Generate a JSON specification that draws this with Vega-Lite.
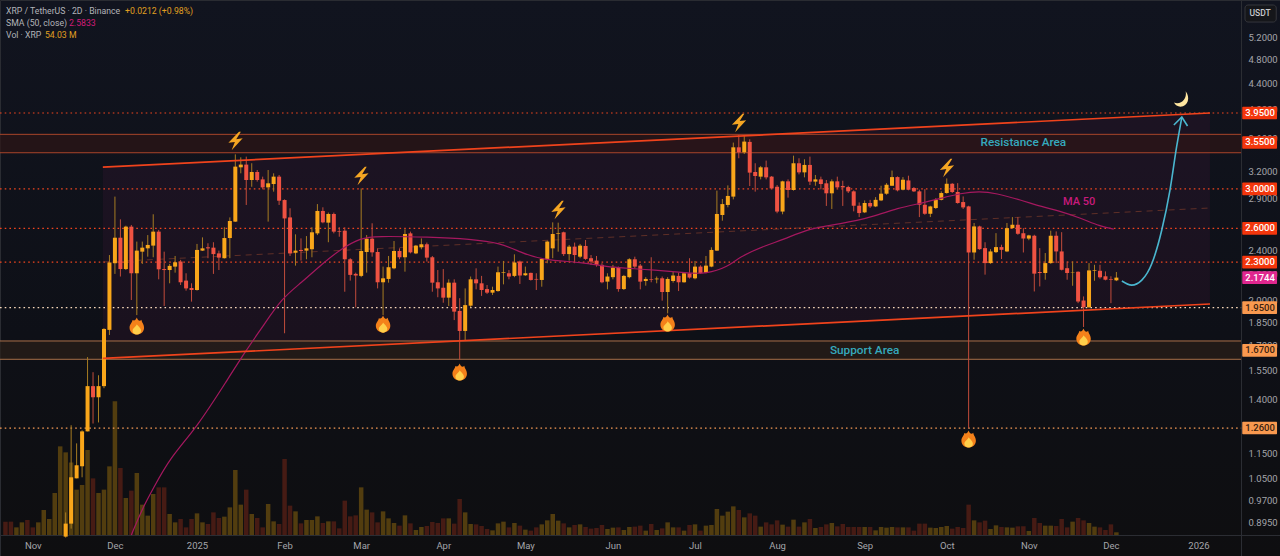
{
  "$schema": "https://vega.github.io/schema/vega-lite/v6.json",
  "description": "XRP / TetherUS 2D candles with channel, support and resistance levels",
  "width": 1280,
  "height": 556,
  "padding": 0,
  "autosize": {"type": "none"},
  "background": "#0e0e10",
  "config": {
    "view": {
      "stroke": "#2a2c32",
      "fill": {"gradient": "linear", "x1": 0, "y1": 0, "x2": 0, "y2": 1, "stops": [{"offset": 0, "color": "#11141f"}, {"offset": 0.6, "color": "#0e1017"}, {"offset": 1, "color": "#0e0e10"}]}
    },
    "axis": {"labelFont": "Roboto", "labelFontSize": 9.5, "labelColor": "#a4a5aa", "domainColor": "#2b2d33", "ticks": false, "grid": false, "labelOverlap": false, "labelFlush": false},
    "text": {"font": "Roboto"}
  },
  "datasets": {
    "bars": [
      {"d":"2024-10-23","o":0.56,"h":0.57,"l":0.54,"c":0.55,"v":267},
      {"d":"2024-10-25","o":0.55,"h":0.56,"l":0.51,"c":0.52,"v":267},
      {"d":"2024-10-27","o":0.52,"h":0.53,"l":0.51,"c":0.53,"v":153},
      {"d":"2024-10-29","o":0.52,"h":0.54,"l":0.51,"c":0.53,"v":253},
      {"d":"2024-10-31","o":0.53,"h":0.54,"l":0.5,"c":0.51,"v":300},
      {"d":"2024-11-02","o":0.51,"h":0.52,"l":0.5,"c":0.5,"v":153},
      {"d":"2024-11-04","o":0.5,"h":0.52,"l":0.49,"c":0.51,"v":253},
      {"d":"2024-11-06","o":0.51,"h":0.56,"l":0.5,"c":0.55,"v":500},
      {"d":"2024-11-08","o":0.55,"h":0.57,"l":0.54,"c":0.56,"v":320},
      {"d":"2024-11-10","o":0.56,"h":0.65,"l":0.55,"c":0.64,"v":840},
      {"d":"2024-11-12","o":0.64,"h":0.78,"l":0.62,"c":0.76,"v":1773},
      {"d":"2024-11-14","o":0.85,"h":0.928,"l":0.847,"c":0.891,"v":1653},
      {"d":"2024-11-16","o":0.891,"h":1.273,"l":0.875,"c":1.054,"v":1450},
      {"d":"2024-11-18","o":1.05,"h":1.192,"l":1.05,"c":1.101,"v":907},
      {"d":"2024-11-20","o":1.097,"h":1.25,"l":1.054,"c":1.245,"v":1000},
      {"d":"2024-11-22","o":1.245,"h":1.63,"l":1.245,"c":1.467,"v":1700},
      {"d":"2024-11-24","o":1.467,"h":1.543,"l":1.281,"c":1.409,"v":1133},
      {"d":"2024-11-26","o":1.409,"h":1.526,"l":1.286,"c":1.467,"v":840},
      {"d":"2024-11-28","o":1.467,"h":1.81,"l":1.456,"c":1.805,"v":907},
      {"d":"2024-11-30","o":1.799,"h":2.36,"l":1.766,"c":2.297,"v":1373},
      {"d":"2024-12-02","o":2.291,"h":2.917,"l":2.204,"c":2.513,"v":2673},
      {"d":"2024-12-04","o":2.513,"h":2.686,"l":2.183,"c":2.243,"v":1340},
      {"d":"2024-12-06","o":2.243,"h":2.625,"l":2.235,"c":2.616,"v":740},
      {"d":"2024-12-08","o":2.616,"h":2.632,"l":2.005,"c":2.209,"v":887},
      {"d":"2024-12-10","o":2.209,"h":2.478,"l":1.898,"c":2.398,"v":1240},
      {"d":"2024-12-12","o":2.389,"h":2.478,"l":2.285,"c":2.424,"v":607},
      {"d":"2024-12-14","o":2.418,"h":2.537,"l":2.346,"c":2.448,"v":387},
      {"d":"2024-12-16","o":2.442,"h":2.736,"l":2.341,"c":2.569,"v":820},
      {"d":"2024-12-18","o":2.569,"h":2.585,"l":2.161,"c":2.241,"v":953},
      {"d":"2024-12-20","o":2.243,"h":2.389,"l":1.962,"c":2.235,"v":953},
      {"d":"2024-12-22","o":2.235,"h":2.285,"l":2.13,"c":2.269,"v":420},
      {"d":"2024-12-24","o":2.263,"h":2.352,"l":2.214,"c":2.299,"v":253},
      {"d":"2024-12-26","o":2.305,"h":2.319,"l":2.117,"c":2.138,"v":320},
      {"d":"2024-12-28","o":2.151,"h":2.209,"l":2.074,"c":2.091,"v":153},
      {"d":"2024-12-30","o":2.094,"h":2.13,"l":1.993,"c":2.079,"v":320},
      {"d":"2025-01-01","o":2.079,"h":2.457,"l":2.074,"c":2.404,"v":433},
      {"d":"2025-01-03","o":2.398,"h":2.516,"l":2.395,"c":2.418,"v":253},
      {"d":"2025-01-05","o":2.427,"h":2.463,"l":2.333,"c":2.418,"v":220},
      {"d":"2025-01-07","o":2.424,"h":2.472,"l":2.204,"c":2.368,"v":453},
      {"d":"2025-01-09","o":2.374,"h":2.398,"l":2.235,"c":2.338,"v":340},
      {"d":"2025-01-11","o":2.333,"h":2.61,"l":2.33,"c":2.51,"v":367},
      {"d":"2025-01-13","o":2.51,"h":2.705,"l":2.333,"c":2.67,"v":553},
      {"d":"2025-01-15","o":2.664,"h":3.4,"l":2.661,"c":3.252,"v":1300},
      {"d":"2025-01-17","o":3.244,"h":3.364,"l":3.174,"c":3.276,"v":607},
      {"d":"2025-01-19","o":3.276,"h":3.372,"l":2.83,"c":3.098,"v":907},
      {"d":"2025-01-21","o":3.098,"h":3.292,"l":3.023,"c":3.189,"v":420},
      {"d":"2025-01-23","o":3.189,"h":3.212,"l":3.08,"c":3.098,"v":340},
      {"d":"2025-01-25","o":3.105,"h":3.136,"l":2.995,"c":3.016,"v":153},
      {"d":"2025-01-27","o":3.016,"h":3.212,"l":2.664,"c":3.061,"v":620},
      {"d":"2025-01-29","o":3.053,"h":3.174,"l":2.97,"c":3.136,"v":273},
      {"d":"2025-01-31","o":3.136,"h":3.155,"l":2.83,"c":2.874,"v":220},
      {"d":"2025-02-02","o":2.881,"h":2.888,"l":1.777,"c":2.695,"v":1520},
      {"d":"2025-02-04","o":2.705,"h":2.796,"l":2.352,"c":2.374,"v":587},
      {"d":"2025-02-06","o":2.38,"h":2.544,"l":2.271,"c":2.398,"v":473},
      {"d":"2025-02-08","o":2.404,"h":2.507,"l":2.313,"c":2.395,"v":233},
      {"d":"2025-02-10","o":2.398,"h":2.528,"l":2.324,"c":2.418,"v":300},
      {"d":"2025-02-12","o":2.41,"h":2.61,"l":2.341,"c":2.563,"v":300},
      {"d":"2025-02-14","o":2.553,"h":2.839,"l":2.537,"c":2.769,"v":373},
      {"d":"2025-02-16","o":2.769,"h":2.806,"l":2.648,"c":2.657,"v":240},
      {"d":"2025-02-18","o":2.654,"h":2.753,"l":2.472,"c":2.739,"v":273},
      {"d":"2025-02-20","o":2.739,"h":2.753,"l":2.553,"c":2.569,"v":273},
      {"d":"2025-02-22","o":2.575,"h":2.61,"l":2.522,"c":2.569,"v":133},
      {"d":"2025-02-24","o":2.578,"h":2.61,"l":2.066,"c":2.324,"v":687},
      {"d":"2025-02-26","o":2.324,"h":2.333,"l":2.151,"c":2.196,"v":373},
      {"d":"2025-02-28","o":2.204,"h":2.214,"l":1.952,"c":2.191,"v":393},
      {"d":"2025-03-02","o":2.188,"h":3.005,"l":2.178,"c":2.395,"v":953},
      {"d":"2025-03-04","o":2.386,"h":2.537,"l":2.214,"c":2.504,"v":507},
      {"d":"2025-03-06","o":2.504,"h":2.648,"l":2.346,"c":2.383,"v":453},
      {"d":"2025-03-08","o":2.386,"h":2.418,"l":2.091,"c":2.138,"v":253},
      {"d":"2025-03-10","o":2.138,"h":2.263,"l":1.898,"c":2.169,"v":473},
      {"d":"2025-03-12","o":2.164,"h":2.352,"l":2.135,"c":2.258,"v":333},
      {"d":"2025-03-14","o":2.249,"h":2.483,"l":2.241,"c":2.395,"v":240},
      {"d":"2025-03-16","o":2.395,"h":2.418,"l":2.324,"c":2.341,"v":187},
      {"d":"2025-03-18","o":2.341,"h":2.591,"l":2.222,"c":2.547,"v":393},
      {"d":"2025-03-20","o":2.553,"h":2.569,"l":2.374,"c":2.383,"v":233},
      {"d":"2025-03-22","o":2.374,"h":2.448,"l":2.368,"c":2.442,"v":100},
      {"d":"2025-03-24","o":2.427,"h":2.507,"l":2.41,"c":2.454,"v":160},
      {"d":"2025-03-26","o":2.454,"h":2.469,"l":2.305,"c":2.338,"v":180},
      {"d":"2025-03-28","o":2.341,"h":2.352,"l":2.066,"c":2.135,"v":260},
      {"d":"2025-03-30","o":2.138,"h":2.235,"l":2.025,"c":2.091,"v":240},
      {"d":"2025-04-01","o":2.096,"h":2.243,"l":1.985,"c":2.022,"v":333},
      {"d":"2025-04-03","o":2.022,"h":2.161,"l":1.962,"c":2.135,"v":333},
      {"d":"2025-04-05","o":2.135,"h":2.161,"l":1.864,"c":1.922,"v":227},
      {"d":"2025-04-07","o":1.927,"h":2.018,"l":1.615,"c":1.792,"v":720},
      {"d":"2025-04-09","o":1.792,"h":2.091,"l":1.73,"c":1.968,"v":453},
      {"d":"2025-04-11","o":1.964,"h":2.183,"l":1.952,"c":2.161,"v":220},
      {"d":"2025-04-13","o":2.161,"h":2.249,"l":2.084,"c":2.13,"v":213},
      {"d":"2025-04-15","o":2.13,"h":2.188,"l":2.035,"c":2.079,"v":180},
      {"d":"2025-04-17","o":2.086,"h":2.117,"l":2.049,"c":2.059,"v":120},
      {"d":"2025-04-19","o":2.059,"h":2.104,"l":2.042,"c":2.079,"v":93},
      {"d":"2025-04-21","o":2.071,"h":2.263,"l":2.066,"c":2.217,"v":233},
      {"d":"2025-04-23","o":2.214,"h":2.31,"l":2.122,"c":2.219,"v":267},
      {"d":"2025-04-25","o":2.209,"h":2.235,"l":2.161,"c":2.183,"v":153},
      {"d":"2025-04-27","o":2.188,"h":2.366,"l":2.178,"c":2.297,"v":240},
      {"d":"2025-04-29","o":2.305,"h":2.313,"l":2.125,"c":2.191,"v":187},
      {"d":"2025-05-01","o":2.193,"h":2.263,"l":2.188,"c":2.209,"v":107},
      {"d":"2025-05-03","o":2.212,"h":2.214,"l":2.151,"c":2.156,"v":87},
      {"d":"2025-05-05","o":2.164,"h":2.209,"l":2.079,"c":2.159,"v":153},
      {"d":"2025-05-07","o":2.156,"h":2.333,"l":2.104,"c":2.327,"v":213},
      {"d":"2025-05-09","o":2.327,"h":2.486,"l":2.291,"c":2.478,"v":293},
      {"d":"2025-05-11","o":2.418,"h":2.657,"l":2.333,"c":2.547,"v":420},
      {"d":"2025-05-13","o":2.547,"h":2.654,"l":2.389,"c":2.553,"v":287},
      {"d":"2025-05-15","o":2.563,"h":2.569,"l":2.352,"c":2.368,"v":233},
      {"d":"2025-05-17","o":2.368,"h":2.448,"l":2.313,"c":2.433,"v":153},
      {"d":"2025-05-19","o":2.433,"h":2.469,"l":2.291,"c":2.36,"v":200},
      {"d":"2025-05-21","o":2.346,"h":2.457,"l":2.333,"c":2.442,"v":213},
      {"d":"2025-05-23","o":2.439,"h":2.492,"l":2.319,"c":2.327,"v":160},
      {"d":"2025-05-25","o":2.333,"h":2.36,"l":2.277,"c":2.305,"v":127},
      {"d":"2025-05-27","o":2.313,"h":2.352,"l":2.263,"c":2.277,"v":140},
      {"d":"2025-05-29","o":2.277,"h":2.291,"l":2.13,"c":2.138,"v":200},
      {"d":"2025-05-31","o":2.143,"h":2.209,"l":2.084,"c":2.183,"v":120},
      {"d":"2025-06-02","o":2.178,"h":2.277,"l":2.161,"c":2.255,"v":147},
      {"d":"2025-06-04","o":2.255,"h":2.263,"l":2.066,"c":2.086,"v":153},
      {"d":"2025-06-06","o":2.086,"h":2.196,"l":2.079,"c":2.188,"v":100},
      {"d":"2025-06-08","o":2.178,"h":2.333,"l":2.169,"c":2.324,"v":160},
      {"d":"2025-06-10","o":2.324,"h":2.346,"l":2.249,"c":2.263,"v":167},
      {"d":"2025-06-12","o":2.271,"h":2.285,"l":2.084,"c":2.143,"v":187},
      {"d":"2025-06-14","o":2.148,"h":2.178,"l":2.112,"c":2.164,"v":87},
      {"d":"2025-06-16","o":2.161,"h":2.341,"l":2.138,"c":2.156,"v":220},
      {"d":"2025-06-18","o":2.161,"h":2.183,"l":2.13,"c":2.167,"v":100},
      {"d":"2025-06-20","o":2.169,"h":2.183,"l":2.0,"c":2.064,"v":133},
      {"d":"2025-06-22","o":2.064,"h":2.178,"l":1.91,"c":2.164,"v":253},
      {"d":"2025-06-24","o":2.148,"h":2.222,"l":2.135,"c":2.191,"v":153},
      {"d":"2025-06-26","o":2.188,"h":2.214,"l":2.071,"c":2.138,"v":153},
      {"d":"2025-06-28","o":2.138,"h":2.214,"l":2.135,"c":2.209,"v":87},
      {"d":"2025-06-30","o":2.209,"h":2.333,"l":2.167,"c":2.175,"v":200},
      {"d":"2025-07-02","o":2.169,"h":2.31,"l":2.161,"c":2.263,"v":213},
      {"d":"2025-07-04","o":2.263,"h":2.274,"l":2.204,"c":2.209,"v":87},
      {"d":"2025-07-06","o":2.214,"h":2.352,"l":2.209,"c":2.271,"v":187},
      {"d":"2025-07-08","o":2.263,"h":2.427,"l":2.258,"c":2.404,"v":200},
      {"d":"2025-07-10","o":2.398,"h":2.981,"l":2.395,"c":2.739,"v":520},
      {"d":"2025-07-12","o":2.729,"h":2.892,"l":2.673,"c":2.839,"v":387},
      {"d":"2025-07-14","o":2.83,"h":3.038,"l":2.806,"c":2.924,"v":467},
      {"d":"2025-07-16","o":2.917,"h":3.548,"l":2.888,"c":3.488,"v":573},
      {"d":"2025-07-18","o":3.488,"h":3.647,"l":3.352,"c":3.425,"v":500},
      {"d":"2025-07-20","o":3.425,"h":3.634,"l":3.404,"c":3.561,"v":353},
      {"d":"2025-07-22","o":3.557,"h":3.591,"l":3.031,"c":3.182,"v":433},
      {"d":"2025-07-24","o":3.189,"h":3.292,"l":2.97,"c":3.143,"v":387},
      {"d":"2025-07-26","o":3.136,"h":3.26,"l":3.105,"c":3.244,"v":167},
      {"d":"2025-07-28","o":3.244,"h":3.324,"l":3.105,"c":3.128,"v":253},
      {"d":"2025-07-30","o":3.136,"h":3.143,"l":2.998,"c":3.005,"v":213},
      {"d":"2025-08-01","o":3.023,"h":3.042,"l":2.746,"c":2.763,"v":293},
      {"d":"2025-08-03","o":2.763,"h":3.09,"l":2.736,"c":3.083,"v":207},
      {"d":"2025-08-05","o":3.083,"h":3.105,"l":2.906,"c":2.988,"v":167},
      {"d":"2025-08-07","o":2.988,"h":3.384,"l":2.981,"c":3.292,"v":307},
      {"d":"2025-08-09","o":3.292,"h":3.352,"l":3.162,"c":3.185,"v":167},
      {"d":"2025-08-11","o":3.185,"h":3.34,"l":3.128,"c":3.272,"v":253},
      {"d":"2025-08-13","o":3.272,"h":3.372,"l":3.042,"c":3.08,"v":320},
      {"d":"2025-08-15","o":3.08,"h":3.155,"l":3.034,"c":3.105,"v":140},
      {"d":"2025-08-17","o":3.105,"h":3.136,"l":2.995,"c":3.053,"v":160},
      {"d":"2025-08-19","o":3.061,"h":3.098,"l":2.82,"c":2.952,"v":213},
      {"d":"2025-08-21","o":2.952,"h":3.105,"l":2.789,"c":3.083,"v":240},
      {"d":"2025-08-23","o":3.083,"h":3.136,"l":3.005,"c":3.016,"v":173},
      {"d":"2025-08-25","o":3.031,"h":3.09,"l":2.82,"c":3.016,"v":220},
      {"d":"2025-08-27","o":3.02,"h":3.034,"l":2.955,"c":2.973,"v":160},
      {"d":"2025-08-29","o":2.973,"h":2.984,"l":2.765,"c":2.822,"v":160},
      {"d":"2025-08-31","o":2.822,"h":2.856,"l":2.708,"c":2.748,"v":160},
      {"d":"2025-09-02","o":2.755,"h":2.877,"l":2.748,"c":2.85,"v":160},
      {"d":"2025-09-04","o":2.85,"h":2.883,"l":2.799,"c":2.815,"v":160},
      {"d":"2025-09-06","o":2.815,"h":2.912,"l":2.808,"c":2.883,"v":93},
      {"d":"2025-09-08","o":2.877,"h":3.034,"l":2.87,"c":2.948,"v":160},
      {"d":"2025-09-10","o":2.948,"h":3.063,"l":2.937,"c":3.045,"v":147},
      {"d":"2025-09-12","o":3.034,"h":3.206,"l":3.034,"c":3.131,"v":160},
      {"d":"2025-09-14","o":3.131,"h":3.139,"l":2.973,"c":2.984,"v":153},
      {"d":"2025-09-16","o":2.991,"h":3.131,"l":2.984,"c":3.101,"v":153},
      {"d":"2025-09-18","o":3.093,"h":3.147,"l":2.984,"c":2.991,"v":153},
      {"d":"2025-09-20","o":3.009,"h":3.02,"l":2.966,"c":2.973,"v":87},
      {"d":"2025-09-22","o":2.973,"h":2.991,"l":2.708,"c":2.832,"v":227},
      {"d":"2025-09-24","o":2.832,"h":2.998,"l":2.731,"c":2.741,"v":227},
      {"d":"2025-09-26","o":2.741,"h":2.822,"l":2.708,"c":2.815,"v":147},
      {"d":"2025-09-28","o":2.799,"h":2.901,"l":2.789,"c":2.883,"v":140},
      {"d":"2025-09-30","o":2.883,"h":2.973,"l":2.877,"c":2.955,"v":160},
      {"d":"2025-10-02","o":2.955,"h":3.116,"l":2.948,"c":3.056,"v":180},
      {"d":"2025-10-04","o":3.056,"h":3.063,"l":2.955,"c":2.966,"v":127},
      {"d":"2025-10-06","o":2.966,"h":3.063,"l":2.843,"c":2.85,"v":160},
      {"d":"2025-10-08","o":2.86,"h":2.919,"l":2.789,"c":2.805,"v":140},
      {"d":"2025-10-10","o":2.815,"h":2.822,"l":1.26,"c":2.382,"v":607},
      {"d":"2025-10-12","o":2.382,"h":2.651,"l":2.32,"c":2.618,"v":293},
      {"d":"2025-10-14","o":2.618,"h":2.625,"l":2.405,"c":2.411,"v":253},
      {"d":"2025-10-16","o":2.42,"h":2.472,"l":2.198,"c":2.292,"v":287},
      {"d":"2025-10-18","o":2.292,"h":2.411,"l":2.286,"c":2.391,"v":120},
      {"d":"2025-10-20","o":2.385,"h":2.555,"l":2.377,"c":2.429,"v":193},
      {"d":"2025-10-22","o":2.429,"h":2.45,"l":2.326,"c":2.405,"v":160},
      {"d":"2025-10-24","o":2.391,"h":2.651,"l":2.385,"c":2.602,"v":153},
      {"d":"2025-10-26","o":2.602,"h":2.708,"l":2.596,"c":2.634,"v":147},
      {"d":"2025-10-28","o":2.634,"h":2.708,"l":2.54,"c":2.549,"v":173},
      {"d":"2025-10-30","o":2.555,"h":2.602,"l":2.382,"c":2.505,"v":173},
      {"d":"2025-11-01","o":2.505,"h":2.54,"l":2.49,"c":2.534,"v":80},
      {"d":"2025-11-03","o":2.531,"h":2.54,"l":2.068,"c":2.206,"v":340},
      {"d":"2025-11-05","o":2.219,"h":2.42,"l":2.106,"c":2.211,"v":240},
      {"d":"2025-11-07","o":2.211,"h":2.377,"l":2.158,"c":2.292,"v":187},
      {"d":"2025-11-09","o":2.292,"h":2.578,"l":2.286,"c":2.531,"v":187},
      {"d":"2025-11-11","o":2.531,"h":2.571,"l":2.292,"c":2.391,"v":180},
      {"d":"2025-11-13","o":2.391,"h":2.564,"l":2.232,"c":2.237,"v":320},
      {"d":"2025-11-15","o":2.25,"h":2.306,"l":2.158,"c":2.211,"v":153},
      {"d":"2025-11-17","o":2.216,"h":2.306,"l":2.111,"c":2.219,"v":267},
      {"d":"2025-11-19","o":2.221,"h":2.224,"l":1.982,"c":1.994,"v":340},
      {"d":"2025-11-21","o":2.001,"h":2.031,"l":1.818,"c":1.953,"v":293},
      {"d":"2025-11-23","o":1.953,"h":2.292,"l":1.946,"c":2.232,"v":240},
      {"d":"2025-11-25","o":2.229,"h":2.278,"l":2.15,"c":2.234,"v":167},
      {"d":"2025-11-27","o":2.229,"h":2.278,"l":2.166,"c":2.177,"v":153},
      {"d":"2025-11-29","o":2.185,"h":2.224,"l":2.153,"c":2.158,"v":100},
      {"d":"2025-12-01","o":2.163,"h":2.185,"l":1.982,"c":2.158,"v":213},
      {"d":"2025-12-03","o":2.153,"h":2.219,"l":2.147,"c":2.1744,"v":54}
    ],
    "ma": [
      {"d":"2024-12-08","p":0.855},{"d":"2024-12-12","p":0.941},{"d":"2024-12-16","p":1.012},{"d":"2024-12-22","p":1.129},
      {"d":"2025-01-01","p":1.264},{"d":"2025-01-12","p":1.499},{"d":"2025-01-19","p":1.672},{"d":"2025-01-25","p":1.82},
      {"d":"2025-02-01","p":2.018},{"d":"2025-02-08","p":2.132},{"d":"2025-02-16","p":2.291},{"d":"2025-02-23","p":2.42},
      {"d":"2025-03-02","p":2.51},{"d":"2025-03-07","p":2.528},{"d":"2025-03-27","p":2.519},{"d":"2025-04-11","p":2.501},
      {"d":"2025-04-22","p":2.465},{"d":"2025-04-29","p":2.386},{"d":"2025-05-07","p":2.317},{"d":"2025-05-22","p":2.3},
      {"d":"2025-05-31","p":2.259},{"d":"2025-06-07","p":2.251},{"d":"2025-06-17","p":2.235},{"d":"2025-06-29","p":2.211},
      {"d":"2025-07-06","p":2.203},{"d":"2025-07-14","p":2.259},{"d":"2025-07-18","p":2.342},{"d":"2025-07-28","p":2.447},
      {"d":"2025-08-03","p":2.492},{"d":"2025-08-13","p":2.602},{"d":"2025-08-24","p":2.64},{"d":"2025-09-05","p":2.709},
      {"d":"2025-09-14","p":2.799},{"d":"2025-09-23","p":2.849},{"d":"2025-09-30","p":2.9},{"d":"2025-10-07","p":2.953},
      {"d":"2025-10-14","p":2.974},{"d":"2025-10-20","p":2.953},{"d":"2025-10-29","p":2.881},{"d":"2025-11-06","p":2.81},
      {"d":"2025-11-12","p":2.77},{"d":"2025-11-20","p":2.698},{"d":"2025-11-27","p":2.62},{"d":"2025-12-02","p":2.593}
    ],
    "channel": [
      {"d":"2024-11-27T14:00:00Z","top":3.247,"mid":2.301,"bot":1.622},
      {"d":"2026-01-06T05:00:00Z","top":3.95,"mid":2.799,"bot":1.976}
    ],
    "bands": [
      {"d":"2024-10-21","d2":"2026-01-17T14:00:00Z","p":3.656,"p2":3.42},
      {"d":"2024-10-21","d2":"2026-01-17T14:00:00Z","p":1.728,"p2":1.617}
    ],
    "edges": [
      {"d":"2024-10-21","d2":"2026-01-17T14:00:00Z","p":3.656},
      {"d":"2024-10-21","d2":"2026-01-17T14:00:00Z","p":3.42},
      {"d":"2024-10-21","d2":"2026-01-17T14:00:00Z","p":1.728},
      {"d":"2024-10-21","d2":"2026-01-17T14:00:00Z","p":1.617}
    ],
    "levels": [
      {"d":"2024-10-21","d2":"2026-01-17T14:00:00Z","p":3.95},
      {"d":"2024-10-21","d2":"2026-01-17T14:00:00Z","p":3.0},
      {"d":"2024-10-21","d2":"2026-01-17T14:00:00Z","p":2.6},
      {"d":"2024-10-21","d2":"2026-01-17T14:00:00Z","p":2.3},
      {"d":"2024-10-21","d2":"2026-01-17T14:00:00Z","p":1.95},
      {"d":"2024-10-21","d2":"2026-01-17T14:00:00Z","p":1.26}
    ],
    "pills": [
      {"d":"2026-01-18","d2":"2026-01-30T17:00:00Z","dm":"2026-01-24T12:00:00Z","p":3.95,"top":4.041,"bot":3.861,"t":"3.9500"},
      {"d":"2026-01-18","d2":"2026-01-30T17:00:00Z","dm":"2026-01-24T12:00:00Z","p":3.55,"top":3.632,"bot":3.47,"t":"3.5500"},
      {"d":"2026-01-18","d2":"2026-01-30T17:00:00Z","dm":"2026-01-24T12:00:00Z","p":3.0,"top":3.069,"bot":2.932,"t":"3.0000"},
      {"d":"2026-01-18","d2":"2026-01-30T17:00:00Z","dm":"2026-01-24T12:00:00Z","p":2.6,"top":2.66,"bot":2.541,"t":"2.6000"},
      {"d":"2026-01-18","d2":"2026-01-30T17:00:00Z","dm":"2026-01-24T12:00:00Z","p":2.3,"top":2.353,"bot":2.248,"t":"2.3000"},
      {"d":"2026-01-18","d2":"2026-01-30T17:00:00Z","dm":"2026-01-24T12:00:00Z","p":2.1744,"top":2.225,"bot":2.125,"t":"2.1744"},
      {"d":"2026-01-18","d2":"2026-01-30T17:00:00Z","dm":"2026-01-24T12:00:00Z","p":1.95,"top":1.995,"bot":1.906,"t":"1.9500"},
      {"d":"2026-01-18","d2":"2026-01-30T17:00:00Z","dm":"2026-01-24T12:00:00Z","p":1.67,"top":1.709,"bot":1.632,"t":"1.6700"},
      {"d":"2026-01-18","d2":"2026-01-30T17:00:00Z","dm":"2026-01-24T12:00:00Z","p":1.26,"top":1.289,"bot":1.232,"t":"1.2600"}
    ],
    "arrow": [
      {"d":"2025-12-05","p":2.148},{"d":"2025-12-08T14:00:00Z","p":2.116},{"d":"2025-12-12T07:00:00Z","p":2.155},
      {"d":"2025-12-16","p":2.291},{"d":"2025-12-19T14:00:00Z","p":2.584},{"d":"2025-12-22T14:00:00Z","p":2.987},
      {"d":"2025-12-25","p":3.492},{"d":"2025-12-26T22:00:00Z","p":3.893}
    ],
    "arrowhead": [
      {"d":"2025-12-24","p":3.782},{"d":"2025-12-26T22:00:00Z","p":3.893},{"d":"2025-12-29","p":3.768}
    ],
    "notes": [
      {"d":"2025-10-30","p":3.55,"t":"Resistance Area"},
      {"d":"2025-09-02","p":1.67,"t":"Support Area"}
    ],
    "ma_note": [{"d":"2025-11-19T10:00:00Z","p":2.86,"t":"MA 50"}],
    "bolts": [
      {"d":"2025-01-15","p":3.569},{"d":"2025-03-02","p":3.143},{"d":"2025-05-13","p":2.778},{"d":"2025-07-18","p":3.81},{"d":"2025-10-02","p":3.235}
    ],
    "fires": [
      {"d":"2024-12-10","p":1.824},{"d":"2025-03-10","p":1.837},{"d":"2025-04-07","p":1.544},{"d":"2025-06-22","p":1.844},{"d":"2025-11-21","p":1.753},{"d":"2025-10-10","p":1.211}
    ],
    "moon": [{"d":"2025-12-27","p":4.156}],
    "head": [
      {"d":"2024-10-23T05:00:00Z","p":5.718,"t":"XRP / TetherUS · 2D · Binance","tone":"plain"},
      {"d":"2024-12-05T17:00:00Z","p":5.718,"t":"+0.0212 (+0.98%)","tone":"gold"},
      {"d":"2024-10-23T05:00:00Z","p":5.475,"t":"SMA (50, close)","tone":"plain"},
      {"d":"2024-11-15T05:00:00Z","p":5.475,"t":"2.5833","tone":"pink"},
      {"d":"2024-10-23T05:00:00Z","p":5.242,"t":"Vol · XRP","tone":"plain"},
      {"d":"2024-11-06T10:00:00Z","p":5.242,"t":"54.03 M","tone":"gold"}
    ],
    "unit": [{"d":"2026-01-19","d2":"2026-01-30T10:00:00Z","dm":"2026-01-24T12:00:00Z","top":5.844,"bot":5.494,"p":5.667,"t":"USDT"}]
  },
  "encoding": {
    "x": {
      "field": "d",
      "type": "temporal",
      "title": null,
      "scale": {"type": "utc", "domain": ["2024-10-21T00:00:00Z", "2026-01-31T19:00:00Z"], "nice": false, "padding": 0},
      "axis": {
        "orient": "bottom",
        "offset": -21,
        "labelPadding": 5,
        "values": ["2024-11-02", "2024-12-02", "2025-01-01", "2025-02-02", "2025-03-02", "2025-04-01", "2025-05-01", "2025-06-02", "2025-07-02", "2025-08-01", "2025-09-02", "2025-10-02", "2025-11-01", "2025-12-01", "2026-01-02"],
        "labelExpr": "utcmonth(datum.value) == 0 ? utcFormat(datum.value, '%Y') : utcFormat(datum.value, '%b')"
      }
    }
  },
  "resolve": {"scale": {"y": "independent"}},
  "layer": [
    {
      "data": {"name": "bars"},
      "mark": {"type": "bar", "size": 4.5},
      "encoding": {
        "y": {"field": "v", "type": "quantitative", "stack": null, "axis": null, "scale": {"domain": [0, 10700], "range": [535, 0], "nice": false}},
        "color": {"condition": {"test": "datum.c >= datum.o", "value": "#523d0f"}, "value": "#461b14"}
      }
    },
    {
      "layer": [
        {
          "data": {"name": "channel"},
          "mark": {"type": "area", "color": "#7c1c5a", "opacity": 0.11},
          "encoding": {
            "y": {
              "field": "top",
              "type": "quantitative",
              "title": null,
              "scale": {"type": "log", "domain": [0.7923, 5.951], "nice": false},
              "axis": {
                "orient": "right",
                "offset": -39,
                "labelPadding": 7,
                "format": ".4f",
                "values": [5.2, 4.8, 4.4, 4.0, 3.6, 3.2, 2.9, 2.4, 2.2, 2.0, 1.85, 1.7, 1.55, 1.4, 1.15, 1.05, 0.97, 0.895]
              }
            },
            "y2": {"field": "bot"}
          }
        },
        {
          "data": {"name": "bands"},
          "mark": {"type": "rect", "opacity": 0.7},
          "encoding": {
            "x2": {"field": "d2"},
            "y": {"field": "p", "type": "quantitative", "title": null},
            "y2": {"field": "p2"},
            "color": {"condition": {"test": "datum.p > 2", "value": "#2e1615"}, "value": "#2a2018"}
          }
        },
        {
          "data": {"name": "edges"},
          "mark": {"type": "rule", "strokeWidth": 1},
          "encoding": {
            "x2": {"field": "d2"},
            "y": {"field": "p", "type": "quantitative", "title": null},
            "color": {"condition": {"test": "datum.p > 2", "value": "#a8452a"}, "value": "#a86f48"}
          }
        },
        {
          "data": {"name": "levels"},
          "mark": {"type": "rule", "strokeWidth": 1.2, "strokeDash": [1.6, 3.1]},
          "encoding": {
            "x2": {"field": "d2"},
            "y": {"field": "p", "type": "quantitative", "title": null},
            "color": {
              "condition": [
                {"test": "datum.p > 2", "value": "#f0451f"},
                {"test": "datum.p > 1.5", "value": "#f8d9bb"}
              ],
              "value": "#f59a55"
            }
          }
        },
        {
          "data": {"name": "channel"},
          "mark": {"type": "line", "color": "#7a3a2a", "strokeWidth": 1, "strokeDash": [6, 5], "opacity": 0.7},
          "encoding": {"y": {"field": "mid", "type": "quantitative", "title": null}}
        },
        {
          "data": {"name": "bars"},
          "mark": {"type": "rule", "strokeWidth": 1, "clip": true},
          "encoding": {
            "y": {"field": "h", "type": "quantitative", "title": null},
            "y2": {"field": "l"},
            "color": {"condition": {"test": "datum.c >= datum.o", "value": "#a67c22"}, "value": "#c24c3b"}
          }
        },
        {
          "data": {"name": "bars"},
          "mark": {"type": "bar", "size": 4, "clip": true, "minBandSize": 1.5},
          "encoding": {
            "y": {"field": "o", "type": "quantitative", "title": null},
            "y2": {"field": "c"},
            "color": {"condition": {"test": "datum.c >= datum.o", "value": "#f9a61a"}, "value": "#ef5242"}
          }
        },
        {
          "data": {"name": "ma"},
          "mark": {"type": "line", "color": "#a5185f", "strokeWidth": 1.2, "interpolate": "basis"},
          "encoding": {"y": {"field": "p", "type": "quantitative", "title": null}}
        },
        {
          "data": {"name": "channel"},
          "mark": {"type": "line", "color": "#f0431c", "strokeWidth": 1.7},
          "encoding": {"y": {"field": "top", "type": "quantitative", "title": null}}
        },
        {
          "data": {"name": "channel"},
          "mark": {"type": "line", "color": "#f0431c", "strokeWidth": 1.7},
          "encoding": {"y": {"field": "bot", "type": "quantitative", "title": null}}
        },
        {
          "data": {"name": "arrow"},
          "mark": {"type": "line", "color": "#4ab6cf", "strokeWidth": 1.6, "interpolate": "monotone"},
          "encoding": {"y": {"field": "p", "type": "quantitative", "title": null}}
        },
        {
          "data": {"name": "arrowhead"},
          "mark": {"type": "line", "color": "#4ab6cf", "strokeWidth": 1.6},
          "encoding": {"y": {"field": "p", "type": "quantitative", "title": null}}
        },
        {
          "data": {"name": "notes"},
          "mark": {"type": "text", "color": "#35a9bd", "fontSize": 11.8, "fontWeight": 500, "align": "center", "baseline": "middle"},
          "encoding": {"y": {"field": "p", "type": "quantitative", "title": null}, "text": {"field": "t"}}
        },
        {
          "data": {"name": "ma_note"},
          "mark": {"type": "text", "color": "#c81a7c", "fontSize": 11, "fontWeight": 500, "align": "center", "baseline": "middle"},
          "encoding": {"y": {"field": "p", "type": "quantitative", "title": null}, "text": {"field": "t"}}
        },
        {
          "data": {"name": "bolts"},
          "mark": {"type": "point", "filled": true, "opacity": 1, "color": "#f5a623", "size": 340, "shape": "M0.4,-1 L-0.75,0.2 L-0.05,0.1 L-0.4,1 L0.8,-0.3 L0.1,-0.2 L0.6,-1 Z"},
          "encoding": {"y": {"field": "p", "type": "quantitative", "title": null}}
        },
        {
          "data": {"name": "fires"},
          "mark": {"type": "point", "filled": true, "opacity": 1, "color": "#f4811a", "size": 290, "shape": "M0,-1 C0.15,-0.6 0.35,-0.5 0.55,-0.75 C0.55,-0.45 0.85,-0.25 0.85,0.2 C0.85,0.7 0.45,1 0,1 C-0.45,1 -0.85,0.7 -0.85,0.2 C-0.85,-0.2 -0.55,-0.35 -0.5,-0.7 C-0.3,-0.6 -0.15,-0.65 0,-1 Z"},
          "encoding": {"y": {"field": "p", "type": "quantitative", "title": null}}
        },
        {
          "data": {"name": "fires"},
          "mark": {"type": "point", "filled": true, "opacity": 1, "color": "#ffcf4a", "size": 290, "shape": "M0,-0.2 C0.1,0 0.5,0.25 0.5,0.55 C0.5,0.85 0.25,1 0,1 C-0.25,1 -0.5,0.85 -0.5,0.55 C-0.5,0.25 -0.1,0.1 0,-0.2 Z"},
          "encoding": {"y": {"field": "p", "type": "quantitative", "title": null}}
        },
        {
          "data": {"name": "moon"},
          "mark": {"type": "point", "filled": true, "opacity": 1, "color": "#ffe6a0", "size": 260, "shape": "M0.45,-0.95 C1.05,-0.2 0.75,0.95 -0.2,0.95 C-0.55,0.95 -0.85,0.75 -1,0.45 C-0.2,0.75 0.65,0.1 0.45,-0.95 Z"},
          "encoding": {"y": {"field": "p", "type": "quantitative", "title": null}}
        },
        {
          "data": {"name": "pills"},
          "mark": {"type": "rect", "cornerRadius": 1},
          "encoding": {
            "x2": {"field": "d2"},
            "y": {"field": "top", "type": "quantitative", "title": null},
            "y2": {"field": "bot"},
            "color": {
              "condition": [
                {"test": "datum.p > 2.2", "value": "#f4360c"},
                {"test": "datum.p > 2", "value": "#e0278f"}
              ],
              "value": "#f9994f"
            }
          }
        },
        {
          "data": {"name": "pills"},
          "mark": {"type": "text", "fontSize": 9.5, "fontWeight": 500, "align": "center", "baseline": "middle"},
          "encoding": {
            "x": {"field": "dm", "type": "temporal", "title": null},
            "y": {"field": "p", "type": "quantitative", "title": null},
            "text": {"field": "t"},
            "color": {"condition": {"test": "datum.p > 2", "value": "#ffffff"}, "value": "#3a2210"}
          }
        },
        {
          "data": {"name": "head"},
          "mark": {"type": "text", "fontSize": 8.7, "align": "left", "baseline": "middle"},
          "encoding": {
            "y": {"field": "p", "type": "quantitative", "title": null},
            "text": {"field": "t"},
            "color": {
              "condition": [
                {"test": "datum.tone == 'gold'", "value": "#e0a020"},
                {"test": "datum.tone == 'pink'", "value": "#d01c78"}
              ],
              "value": "#b2b3b8"
            }
          }
        },
        {
          "data": {"name": "unit"},
          "mark": {"type": "rect", "color": "#15161a", "stroke": "#35363c", "strokeWidth": 1, "cornerRadius": 3},
          "encoding": {
            "x2": {"field": "d2"},
            "y": {"field": "top", "type": "quantitative", "title": null},
            "y2": {"field": "bot"}
          }
        },
        {
          "data": {"name": "unit"},
          "mark": {"type": "text", "color": "#c8c9cd", "fontSize": 8.5, "fontWeight": 500, "align": "center", "baseline": "middle"},
          "encoding": {
            "x": {"field": "dm", "type": "temporal", "title": null},
            "y": {"field": "p", "type": "quantitative", "title": null},
            "text": {"field": "t"}
          }
        }
      ]
    }
  ]
}
